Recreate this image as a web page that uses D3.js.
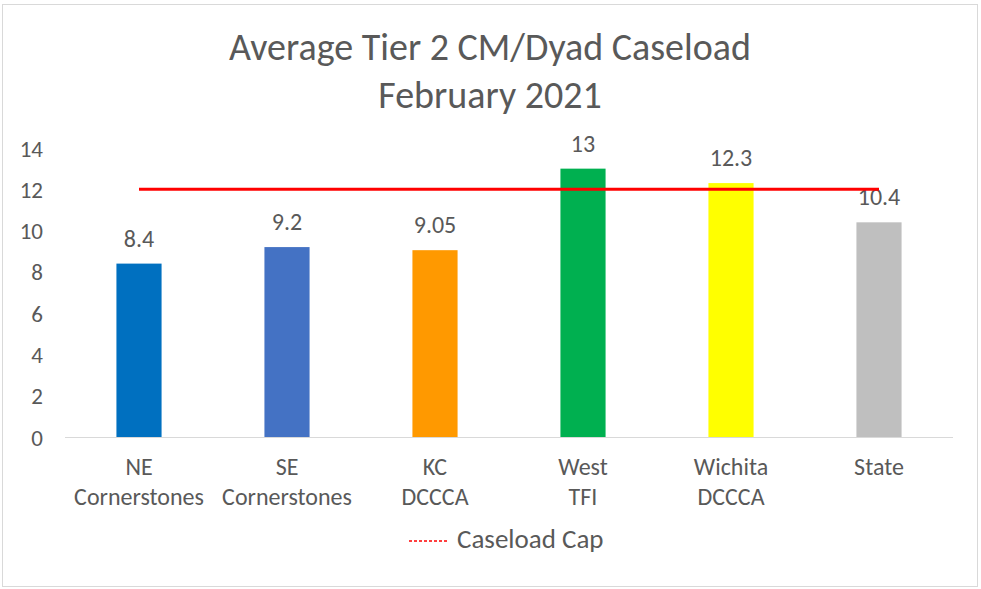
<!DOCTYPE html>
<html><head><meta charset="utf-8">
<script src="https://cdn.jsdelivr.net/npm/d3@7"></script>
<style>body{margin:0;background:#fff}svg{display:block}text{font-family:Carlito,Lato,sans-serif;fill:#595959}</style>
</head><body><svg id="c" width="981" height="589"></svg>
<script>
const categories = [["NE","Cornerstones"],["SE","Cornerstones"],["KC","DCCCA"],["West","TFI"],["Wichita","DCCCA"],["State"]];
const values = [8.4, 9.2, 9.05, 13, 12.3, 10.4];
const valueLabels = ["8.4","9.2","9.05","13","12.3","10.4"];
const barColors = ["#0070C0","#4472C4","#FF9900","#00B050","#FFFF00","#BFBFBF"];
const capValue = 12;
const yTicks = [0,2,4,6,8,10,12,14];
const titleLines = ["Average Tier 2 CM/Dyad Caseload","February 2021"];
const legendLabel = "Caseload Cap";

const svg = d3.select("#c");
svg.append("rect").attr("x",2.5).attr("y",4.5).attr("width",975).attr("height",582)
  .attr("fill","#fff").attr("stroke","#d9d9d9").attr("stroke-width",1);

const keys = categories.map((d,i)=>i);
const x = d3.scaleBand().domain(keys).range([65,953]).paddingInner(0.695).paddingOuter(0.3475);
const y = d3.scaleLinear().domain([0,14]).range([437,148]);

// title
const t = svg.append("text").attr("text-anchor","middle").style("font-size","38px");
titleLines.forEach((l,i)=>t.append("tspan").attr("x",490).attr("y",60+i*48).text(l));

// y axis labels
svg.append("g").selectAll("text").data(yTicks).join("text")
  .attr("x",43).attr("y",d=>y(d)+8.5).attr("text-anchor","end").style("font-size","23px").text(d=>d);

// baseline
svg.append("line").attr("x1",65).attr("x2",953).attr("y1",y(0)+0.5).attr("y2",y(0)+0.5)
  .attr("stroke","#d9d9d9").attr("stroke-width",1);

// bars
svg.append("g").selectAll("rect").data(values).join("rect")
  .attr("x",(d,i)=>x(i)).attr("width",x.bandwidth())
  .attr("y",d=>y(d)).attr("height",d=>y(0)-y(d)).attr("fill",(d,i)=>barColors[i]);

// value labels
svg.append("g").selectAll("text").data(values).join("text")
  .attr("x",(d,i)=>x(i)+x.bandwidth()/2).attr("y",d=>y(d)-17)
  .attr("text-anchor","middle").style("font-size","24px").text((d,i)=>valueLabels[i]);

// cap line
const capLine = d3.line().x(d=>x(d)+x.bandwidth()/2).y(()=>y(capValue));
svg.append("path").datum(keys).attr("d",capLine).attr("stroke","#FF0000").attr("stroke-width",3).attr("fill","none");

// category labels
const cg = svg.append("g").selectAll("text").data(categories).join("text")
  .attr("text-anchor","middle").style("font-size","24px");
cg.each(function(d,i){
  const el=d3.select(this);
  d.forEach((l,j)=>el.append("tspan").attr("x",x(i)+x.bandwidth()/2).attr("y",475+j*30).text(l));
});

// legend
svg.append("line").attr("x1",409).attr("x2",449).attr("y1",541).attr("y2",541)
  .attr("stroke","#FF0000").attr("stroke-width",1.5).attr("stroke-dasharray","3,2");
svg.append("text").attr("x",457).attr("y",548).style("font-size","27px").text(legendLabel);
</script></body></html>
